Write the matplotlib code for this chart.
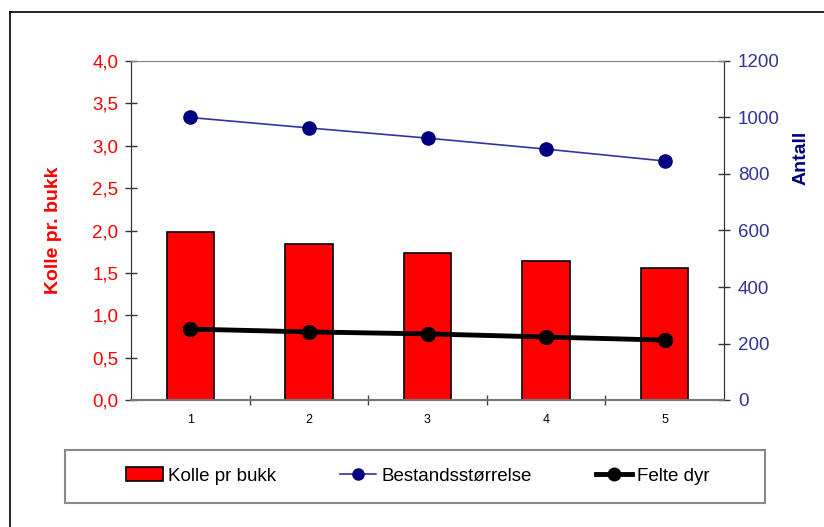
import matplotlib.pyplot as plt
from matplotlib.lines import Line2D
from matplotlib.patches import Rectangle
from matplotlib.ticker import FuncFormatter

plt.rcParams['font.family'] = ['Liberation Sans', 'DejaVu Sans']

aar = [1, 2, 3, 4, 5]
kolle_pr_bukk = [1.98, 1.84, 1.73, 1.64, 1.56]
bestand = [1000, 963, 927, 888, 846]
felte_dyr = [251, 241, 234, 223, 212]

red = '#ff0000'
navy = '#000080'

fig = plt.figure(figsize=(8.24, 5.27), dpi=100)
ax1 = fig.add_axes([131 / 824, 127 / 527, 593 / 824, 339 / 527])
ax2 = ax1.twinx()

ax1.bar(aar, kolle_pr_bukk, width=0.4, color=red, edgecolor='black', lw=1.2, zorder=2)
ax2.plot(aar, bestand, '-', color='#3333a0', lw=1.2, marker='o', ms=9.5,
         mfc=navy, mec=navy, zorder=3)
ax2.plot(aar, felte_dyr, '-', color='black', lw=3.5, marker='o', ms=10,
         mfc='black', mec='black', zorder=3)

ax1.set_xlim(0.5, 5.5)
ax1.set_ylim(0, 4)
ax2.set_ylim(0, 1200)
ax1.set_yticks([i * 0.5 for i in range(9)])
ax2.set_yticks(range(0, 1201, 200))
ax1.yaxis.set_major_formatter(FuncFormatter(lambda v, p: f'{v:.1f}'.replace('.', ',')))

# x ticks between categories, labels at centres
ax1.set_xticks([1.5, 2.5, 3.5, 4.5], minor=False)
ax1.set_xticklabels([])
ax1.set_xticks(aar, minor=True)
ax1.set_xticklabels([str(a) for a in aar], minor=True, fontsize=9)
ax1.tick_params(axis='x', which='major', direction='inout', length=7, width=1, color='#444444')
ax1.tick_params(axis='x', which='minor', length=0, pad=10)

ax1.tick_params(axis='y', direction='inout', length=8, width=1, colors=red,
                labelsize=13.5, pad=5)
ax1.tick_params(axis='y', color='#333333')
ax2.tick_params(axis='y', direction='inout', length=8, width=1, colors='#333399',
                labelsize=13.5, pad=6)
ax2.tick_params(axis='y', color='#333333')

ax1.set_ylabel('Kolle pr. bukk', color=red, fontsize=14, fontweight='bold')
ax1.yaxis.set_label_coords(-0.116, 0.5)
ax2.set_ylabel('Antall', color=navy, fontsize=14, fontweight='bold')
ax2.yaxis.set_label_coords(1.1147, 0.714)

for ax in (ax1, ax2):
    ax.spines['top'].set_color('#888888')
    ax.spines['left'].set_color('#333333')
    ax.spines['right'].set_color('#333333')
    ax.spines['bottom'].set_color('#777777')
    ax.spines['bottom'].set_linewidth(1.5)

# legend box
fig.add_artist(Rectangle((65 / 824, 1 - 503 / 527), 700 / 824, 53 / 527, fill=False,
                         edgecolor='#888888', lw=1.5, transform=fig.transFigure))

handles = [
    Rectangle((0, 0), 1, 1, facecolor=red, edgecolor='black', lw=1.2),
    Line2D([], [], color='#3333a0', lw=1.2, marker='o', ms=8, mfc=navy, mec=navy),
    Line2D([], [], color='black', lw=3.5, marker='o', ms=9, mfc='black', mec='black'),
]
labels = ['Kolle pr bukk', 'Bestandsstørrelse', 'Felte dyr']
leg = fig.legend(handles, labels, loc='center', ncol=3, frameon=False,
                 bbox_to_anchor=(418 / 824, (527 - 476) / 527), fontsize=13.5,
                 handlelength=1.95, handletextpad=0.27, columnspacing=3.4,
                 borderpad=0)

# outer frame
fig.add_artist(Line2D([10 / 824, 10 / 824], [0, 1 - 12 / 527], color='black', lw=1.2,
                      transform=fig.transFigure))
fig.add_artist(Line2D([10 / 824, 1], [1 - 12 / 527, 1 - 12 / 527], color='black', lw=1.2,
                      transform=fig.transFigure))

fig.savefig('out.png', dpi=100)
